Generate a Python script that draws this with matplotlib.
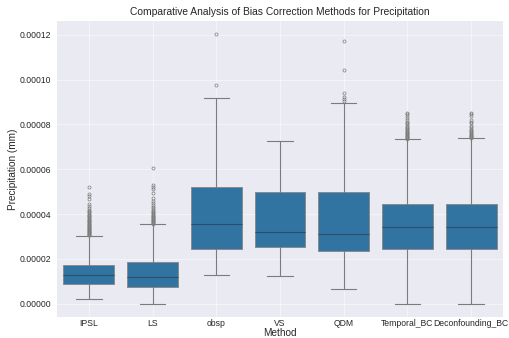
import numpy as np
import matplotlib
matplotlib.use("Agg")
import matplotlib.pyplot as plt

plt.rcParams["font.family"] = ["Liberation Sans", "DejaVu Sans"]

# ── data (values in 1e-5 mm) ─────────────────────────────────────────────────
methods = ["IPSL", "LS", "obsp", "VS", "QDM", "Temporal_BC", "Deconfounding_BC"]
whis_lo = [0.21, 0.00, 1.28, 1.22, 0.66, 0.00, 0.00]
q1      = [0.87, 0.745, 2.44, 2.54, 2.34, 2.46, 2.43]
median  = [1.27, 1.21, 3.57, 3.19, 3.10, 3.41, 3.41]
q3      = [1.73, 1.85, 5.20, 4.97, 5.00, 4.44, 4.44]
whis_hi = [3.02, 3.54, 9.20, 7.28, 8.95, 7.34, 7.38]

fliers_ipsl = [3.05, 3.08, 3.10, 3.13, 3.16, 3.19, 3.22, 3.25, 3.28, 3.31, 3.34,
               3.37, 3.40, 3.43, 3.46, 3.50, 3.53, 3.56, 3.60, 3.63, 3.67, 3.70,
               3.74, 3.78, 3.82, 3.86, 3.90, 3.94, 3.98, 4.03, 4.08, 4.13, 4.20,
               4.27, 4.35, 4.44, 4.66, 4.82, 4.88, 5.20]
fliers_ls = [3.57, 3.60, 3.63, 3.66, 3.69, 3.72, 3.75, 3.78, 3.81, 3.85, 3.89,
             3.93, 3.97, 4.01, 4.05, 4.10, 4.15, 4.20, 4.26, 4.32, 4.40, 4.48,
             4.58, 4.70, 4.95, 5.12, 5.20, 5.30, 6.04]
fliers_obsp = [9.78, 12.04]
fliers_vs = []
fliers_qdm = [9.05, 9.12, 9.24, 9.42, 10.45, 11.74]
fliers_temporal = [7.37, 7.40, 7.43, 7.46, 7.50, 7.53, 7.56, 7.60, 7.64, 7.68,
                   7.72, 7.76, 7.80, 7.85, 7.90, 7.95, 8.00, 8.06, 8.12, 8.20,
                   8.28, 8.36, 8.45, 8.50]
fliers_deconf = [7.41, 7.44, 7.47, 7.50, 7.54, 7.58, 7.62, 7.66, 7.70, 7.75,
                 7.80, 7.88, 7.95, 8.05, 8.12, 8.20, 8.38, 8.45, 8.53]
fliers = [fliers_ipsl, fliers_ls, fliers_obsp, fliers_vs, fliers_qdm,
          fliers_temporal, fliers_deconf]

SCALE = 1e-5
stats = []
for i, m in enumerate(methods):
    stats.append(dict(label=m,
                      whislo=whis_lo[i] * SCALE, q1=q1[i] * SCALE,
                      med=median[i] * SCALE, q3=q3[i] * SCALE,
                      whishi=whis_hi[i] * SCALE,
                      fliers=np.array(fliers[i]) * SCALE))

# ── figure ───────────────────────────────────────────────────────────────────
fig = plt.figure(figsize=(5.1, 3.38), dpi=100)
ax = fig.add_axes([57 / 510, (338 - 317) / 338, 446 / 510, 296 / 338])
ax.set_facecolor("#eaeaf2")
for s in ax.spines.values():
    s.set_visible(False)
ax.grid(True, color="white", lw=0.6, alpha=0.6)
ax.set_axisbelow(True)

line_c = "#7c7c7c"
ax.bxp(stats, positions=np.arange(len(methods)), widths=0.8, patch_artist=True,
       boxprops=dict(facecolor="#3274a1", edgecolor="#8a8a8a", lw=0.7),
       medianprops=dict(color="#2c4f6e", lw=0.8),
       whiskerprops=dict(color=line_c, lw=0.8),
       capprops=dict(color=line_c, lw=0.8),
       flierprops=dict(marker="o", markersize=2.2, markerfacecolor="none",
                       markeredgecolor=line_c, markeredgewidth=0.5),
       capwidths=0.4)

ax.set_xlim(-0.5, len(methods) - 0.5)
ax.set_ylim(-0.594e-5, 12.62e-5)
yt = np.arange(0, 12.1e-5, 2e-5)
ax.set_yticks(yt)
ax.set_yticklabels([f"{v:.5f}" for v in yt])
ax.tick_params(axis="y", length=0, labelsize=6.2, colors="#262626", pad=4)
ax.tick_params(axis="x", length=0, labelsize=6.2, colors="#262626", pad=1.5)

ax.set_xlabel("Method", fontsize=7.2, color="#262626", labelpad=0)
ax.set_ylabel("Precipitation (mm)", fontsize=7.2, color="#262626", labelpad=1)
ax.set_title("Comparative Analysis of Bias Correction Methods for Precipitation",
             fontsize=7.4, color="#262626", pad=4)

fig.savefig("out.png", dpi=100)
plt.close()
